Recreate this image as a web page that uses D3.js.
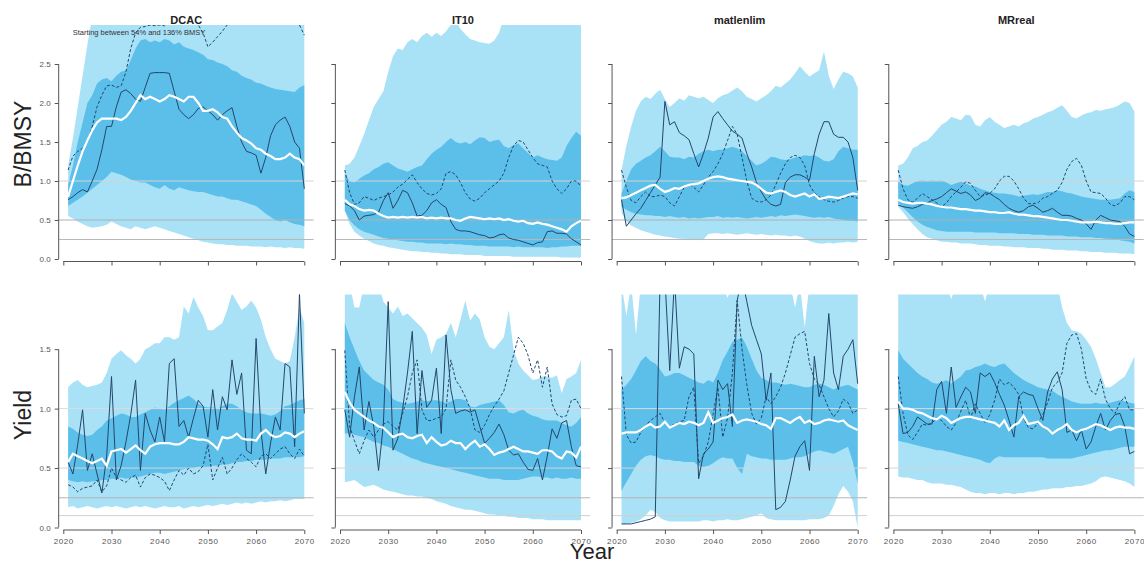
<!DOCTYPE html>
<html>
<head>
<meta charset="utf-8">
<script src="https://cdn.jsdelivr.net/npm/d3@7"></script>
<style>
  body { margin: 0; background: #fff; }
  svg { display: block; }
</style>
</head>
<body>
<svg id="chart" width="1144" height="563"></svg>
<script>
// ---- categories and ticks ----
const years = d3.range(2021, 2071);
const methods = ["DCAC", "IT10", "matlenlim", "MRreal"];
const xTicks = [2020, 2030, 2040, 2050, 2060, 2070];
const bTicks = [0, 0.5, 1, 1.5, 2, 2.5];
const yTicks = [0, 0.5, 1, 1.5];
const bRefs = [1, 0.5, 0.25];
const yRefs = [1, 0.5, 0.25, 0.1];

// ---- B/BMSY projections (2021-2070) ----
const dcacB_outerLo = [0.55,0.52,0.48,0.45,0.42,0.40,0.41,0.42,0.44,0.48, 0.45,0.42,0.40,0.38,0.42,0.40,0.38,0.40,0.42,0.40, 0.38,0.36,0.34,0.32,0.30,0.28,0.26,0.24,0.22,0.21, 0.20,0.19,0.19,0.18,0.18,0.17,0.17,0.17,0.16,0.16, 0.16,0.15,0.16,0.15,0.15,0.14,0.15,0.14,0.14,0.13];
const dcacB_outerHi = [1.20,1.55,1.95,2.35,2.75,3.10,3.30,3.40,3.50,3.60, 3.60,3.70,3.80,3.90,4.00,4.00,4.10,4.10,4.20,4.20, 4.20,4.10,4.10,4.00,4.00,4.00,3.90,3.90,3.90,3.80, 3.80,3.80,3.70,3.70,3.70,3.60,3.60,3.60,3.60,3.50, 3.50,3.50,3.50,3.40,3.40,3.40,3.40,3.30,3.30,3.30];
const dcacB_innerLo = [0.68,0.72,0.76,0.80,0.85,0.90,0.95,1.00,1.05,1.12, 1.10,1.08,1.05,1.02,1.00,0.98,0.98,0.95,0.92,0.90, 0.95,0.90,0.88,0.92,0.90,0.88,0.87,0.86,0.86,0.84, 0.82,0.80,0.80,0.78,0.76,0.76,0.74,0.72,0.70,0.68, 0.63,0.58,0.54,0.50,0.48,0.50,0.47,0.45,0.44,0.42];
const dcacB_innerHi = [0.95,1.20,1.50,1.75,2.00,2.10,2.25,2.30,2.32,2.28, 2.35,2.40,2.42,2.55,2.70,2.80,2.82,2.78,2.80,2.78, 2.82,2.80,2.75,2.78,2.72,2.70,2.68,2.65,2.62,2.56, 2.55,2.52,2.50,2.47,2.42,2.40,2.35,2.32,2.30,2.26, 2.25,2.22,2.20,2.18,2.17,2.16,2.15,2.14,2.20,2.23];
const dcacB_median = [0.80,1.00,1.20,1.38,1.52,1.65,1.75,1.80,1.80,1.80, 1.80,1.78,1.82,1.90,2.00,2.10,2.05,2.08,2.05,2.02, 2.05,2.10,2.08,2.05,2.02,2.08,2.08,2.00,1.90,1.90, 1.92,1.88,1.82,1.80,1.70,1.62,1.55,1.52,1.48,1.42, 1.40,1.35,1.32,1.28,1.28,1.30,1.35,1.30,1.28,1.20];
const dcacB_sim1 = [0.76,0.80,0.85,0.89,0.86,1.00,1.15,1.40,1.70,1.70, 1.95,2.14,2.17,2.12,2.05,2.02,2.20,2.38,2.39,2.39, 2.39,2.38,2.15,1.92,1.85,1.80,1.85,1.93,1.95,1.90, 1.85,1.78,1.85,1.90,1.94,1.70,1.50,1.38,1.36,1.33, 1.10,1.30,1.58,1.72,1.78,1.82,1.70,1.50,1.42,0.90];
const dcacB_sim2 = [1.14,1.32,1.38,1.42,1.50,1.70,1.95,2.10,2.22,2.23, 2.20,2.22,2.40,2.70,2.90,2.97,2.98,3.00,2.99,3.00, 2.99,3.05,3.20,3.20,3.20,3.20,3.10,3.00,2.90,2.72, 2.78,2.85,2.92,3.00,3.20,3.20,3.20,3.20,3.20,3.20, 3.20,3.20,3.20,3.20,3.20,3.20,3.20,3.10,3.00,2.87];

const it10B_outerLo = [0.62,0.45,0.35,0.30,0.26,0.23,0.20,0.18,0.17,0.15, 0.14,0.13,0.12,0.11,0.10,0.10,0.09,0.09,0.08,0.08, 0.07,0.07,0.06,0.06,0.06,0.05,0.05,0.05,0.05,0.04, 0.04,0.04,0.04,0.04,0.04,0.03,0.03,0.03,0.03,0.03, 0.03,0.03,0.03,0.03,0.03,0.02,0.02,0.02,0.02,0.02];
const it10B_outerHi = [1.20,1.22,1.30,1.45,1.60,1.78,1.95,2.05,2.15,2.40, 2.60,2.70,2.68,2.78,2.82,2.78,2.86,2.90,2.85,2.90, 2.86,2.92,3.00,3.05,2.95,2.88,2.82,2.80,2.78,2.77, 2.76,2.80,2.90,3.10,3.30,3.40,3.50,3.50,3.60,3.60, 3.60,3.60,3.60,3.60,3.60,3.60,3.60,3.60,3.60,3.60];
const it10B_innerLo = [0.62,0.50,0.43,0.38,0.35,0.33,0.31,0.29,0.27,0.26, 0.25,0.24,0.23,0.22,0.22,0.21,0.21,0.20,0.20,0.20, 0.20,0.19,0.20,0.19,0.19,0.18,0.18,0.17,0.17,0.17, 0.16,0.16,0.16,0.16,0.16,0.15,0.16,0.15,0.15,0.15, 0.15,0.15,0.14,0.15,0.15,0.16,0.16,0.17,0.17,0.17];
const it10B_innerHi = [1.10,1.00,0.98,1.03,1.07,1.10,1.15,1.18,1.22,1.24, 1.20,1.16,1.14,1.12,1.15,1.18,1.20,1.28,1.35,1.40, 1.44,1.50,1.55,1.50,1.48,1.50,1.47,1.52,1.56,1.55, 1.50,1.52,1.53,1.45,1.42,1.46,1.48,1.42,1.36,1.30, 1.33,1.30,1.28,1.27,1.26,1.30,1.45,1.55,1.63,1.58];
const it10B_median = [0.76,0.70,0.68,0.64,0.62,0.63,0.62,0.58,0.55,0.53, 0.54,0.53,0.54,0.53,0.54,0.53,0.54,0.52,0.53,0.52, 0.53,0.52,0.52,0.50,0.49,0.52,0.54,0.53,0.52,0.51, 0.52,0.51,0.52,0.50,0.51,0.49,0.48,0.49,0.46,0.45, 0.47,0.45,0.44,0.42,0.40,0.38,0.35,0.42,0.46,0.49];
const it10B_sim1 = [0.71,0.68,0.62,0.50,0.55,0.56,0.57,0.60,0.75,0.85, 0.65,0.75,0.88,0.85,0.72,0.55,0.56,0.62,0.72,0.76, 0.70,0.66,0.48,0.38,0.36,0.36,0.35,0.33,0.31,0.30, 0.27,0.28,0.31,0.32,0.27,0.25,0.24,0.22,0.20,0.18, 0.21,0.22,0.35,0.36,0.33,0.33,0.32,0.26,0.22,0.18];
const it10B_sim2 = [1.14,0.85,0.70,0.72,0.80,0.78,0.75,0.78,0.80,0.82, 0.86,0.92,0.96,1.02,1.08,0.98,0.90,0.84,0.82,0.84, 0.90,1.10,1.12,1.08,0.98,0.85,0.77,0.74,0.78,0.85, 0.90,0.95,1.00,1.10,1.30,1.45,1.52,1.50,1.40,1.30, 1.22,1.20,1.18,1.00,0.90,0.84,0.90,1.00,1.00,0.93];

const matB_outerLo = [0.60,0.48,0.43,0.40,0.37,0.35,0.33,0.31,0.30,0.29, 0.28,0.27,0.26,0.26,0.25,0.25,0.24,0.25,0.32,0.33, 0.33,0.32,0.33,0.32,0.31,0.32,0.33,0.32,0.31,0.32, 0.31,0.30,0.31,0.30,0.30,0.29,0.30,0.29,0.26,0.23, 0.21,0.20,0.20,0.21,0.20,0.21,0.21,0.22,0.21,0.22];
const matB_outerHi = [1.14,1.45,1.70,1.90,2.02,2.08,2.05,2.12,2.17,2.05, 1.95,2.00,2.06,2.03,2.10,2.08,2.06,2.08,2.04,2.00, 2.06,2.10,2.12,2.16,2.20,2.15,2.08,2.05,2.02,2.06, 2.10,2.15,2.22,2.20,2.25,2.30,2.38,2.47,2.40,2.34, 2.38,2.42,2.66,2.35,2.18,2.30,2.40,2.38,2.34,2.20];
const matB_innerLo = [0.67,0.63,0.60,0.58,0.57,0.56,0.56,0.55,0.55,0.54, 0.55,0.54,0.53,0.54,0.52,0.53,0.52,0.53,0.54,0.54, 0.55,0.53,0.54,0.53,0.54,0.53,0.52,0.53,0.54,0.53, 0.54,0.55,0.54,0.56,0.55,0.56,0.57,0.56,0.55,0.54, 0.53,0.54,0.53,0.54,0.52,0.51,0.50,0.49,0.49,0.48];
const matB_innerHi = [0.84,1.00,1.15,1.22,1.26,1.30,1.33,1.38,1.44,1.38, 1.31,1.30,1.30,1.28,1.31,1.30,1.35,1.38,1.40,1.38, 1.40,1.40,1.42,1.44,1.42,1.38,1.32,1.26,1.20,1.22, 1.26,1.31,1.30,1.28,1.27,1.28,1.30,1.31,1.33,1.32, 1.33,1.30,1.26,1.25,1.28,1.38,1.44,1.42,1.40,1.40];
const matB_median = [0.78,0.79,0.82,0.85,0.88,0.91,0.94,0.95,0.90,0.86, 0.88,0.91,0.90,0.93,0.95,0.96,0.97,1.00,1.03,1.05, 1.06,1.05,1.03,1.02,1.01,1.00,0.99,0.98,0.95,0.90, 0.85,0.84,0.86,0.88,0.86,0.82,0.80,0.82,0.84,0.80, 0.83,0.77,0.78,0.80,0.79,0.78,0.80,0.82,0.84,0.83];
const matB_sim1 = [0.76,0.42,0.50,0.58,0.65,0.75,0.85,0.95,1.05,2.02, 1.72,1.76,1.62,1.58,1.53,1.35,1.18,1.35,1.55,1.82, 1.89,1.80,1.72,1.64,1.60,1.55,1.35,1.18,0.98,0.86, 0.76,0.70,0.68,0.70,0.98,1.05,1.08,1.08,1.05,1.01, 1.35,1.60,1.76,1.76,1.60,1.56,1.56,1.50,1.30,0.88];
const matB_sim2 = [1.14,0.92,0.75,0.72,0.80,0.86,0.80,0.80,0.82,0.80, 0.72,0.68,0.80,0.92,0.96,0.92,0.86,0.95,1.05,1.12, 1.22,1.35,1.52,1.70,1.60,1.30,1.00,0.78,0.74,0.73, 0.76,0.82,0.95,1.10,1.22,1.30,1.33,1.30,1.20,0.95, 0.85,0.80,0.76,0.74,0.73,0.75,0.78,0.80,0.80,0.78];

const mrB_outerLo = [0.67,0.60,0.52,0.45,0.38,0.32,0.28,0.26,0.24,0.22, 0.22,0.21,0.21,0.20,0.20,0.20,0.19,0.18,0.18,0.17, 0.17,0.17,0.16,0.16,0.15,0.15,0.15,0.14,0.14,0.14, 0.13,0.13,0.12,0.12,0.12,0.11,0.11,0.11,0.10,0.10, 0.09,0.09,0.09,0.08,0.08,0.08,0.07,0.07,0.07,0.06];
const mrB_outerHi = [1.20,1.22,1.30,1.42,1.45,1.50,1.52,1.58,1.65,1.72, 1.76,1.82,1.80,1.78,1.85,1.84,1.72,1.70,1.78,1.82, 1.76,1.72,1.68,1.70,1.72,1.70,1.74,1.76,1.80,1.82, 1.85,1.88,1.90,1.94,1.97,1.90,1.82,1.80,1.84,1.87, 1.88,1.91,1.90,1.92,1.93,1.95,1.98,2.02,2.00,1.89];
const mrB_innerLo = [0.71,0.66,0.60,0.54,0.48,0.44,0.41,0.39,0.37,0.36, 0.35,0.35,0.35,0.35,0.35,0.35,0.34,0.34,0.34,0.34, 0.34,0.33,0.33,0.33,0.33,0.32,0.32,0.32,0.31,0.31, 0.31,0.30,0.30,0.30,0.30,0.29,0.29,0.29,0.28,0.28, 0.28,0.27,0.27,0.26,0.26,0.25,0.24,0.23,0.22,0.20];
const mrB_innerHi = [0.99,0.95,0.94,0.97,1.00,1.01,1.00,1.01,1.00,1.01, 0.98,0.95,0.97,0.99,0.97,0.94,0.93,0.90,0.88,0.86, 0.85,0.84,0.84,0.83,0.82,0.80,0.81,0.82,0.83,0.82, 0.84,0.86,0.86,0.88,0.87,0.85,0.84,0.82,0.80,0.79, 0.78,0.77,0.76,0.76,0.76,0.77,0.78,0.84,0.88,0.86];
const mrB_median = [0.76,0.73,0.72,0.71,0.72,0.72,0.71,0.70,0.68,0.67, 0.66,0.66,0.65,0.64,0.64,0.63,0.62,0.62,0.61,0.60, 0.60,0.59,0.59,0.60,0.58,0.57,0.57,0.56,0.55,0.55, 0.54,0.53,0.52,0.51,0.50,0.50,0.49,0.48,0.47,0.47, 0.47,0.48,0.47,0.46,0.46,0.45,0.45,0.46,0.47,0.47];
const mrB_sim1 = [0.69,0.67,0.66,0.65,0.67,0.70,0.72,0.75,0.77,0.80, 0.85,0.90,0.87,0.84,0.86,0.82,0.75,0.78,0.85,0.84, 0.80,0.76,0.70,0.65,0.62,0.60,0.62,0.67,0.69,0.65, 0.60,0.62,0.65,0.60,0.56,0.56,0.55,0.52,0.50,0.45, 0.38,0.50,0.56,0.53,0.50,0.49,0.48,0.42,0.32,0.29];
const mrB_sim2 = [1.14,0.90,0.76,0.73,0.78,0.84,0.80,0.76,0.72,0.67, 0.72,0.80,0.86,0.92,0.99,0.97,0.88,0.80,0.82,0.84, 0.90,1.00,1.06,1.06,1.00,0.90,0.78,0.71,0.71,0.72, 0.78,0.80,0.84,0.88,0.98,1.15,1.25,1.29,1.20,1.00, 0.86,0.85,0.84,0.78,0.70,0.68,0.72,0.80,0.80,0.76];

// ---- Yield projections (2021-2070) ----
const dcacY_outerLo = [0.17,0.18,0.16,0.17,0.18,0.17,0.16,0.17,0.18,0.17, 0.18,0.17,0.16,0.17,0.18,0.17,0.18,0.17,0.16,0.17, 0.18,0.17,0.17,0.18,0.16,0.17,0.18,0.17,0.18,0.19, 0.18,0.19,0.20,0.19,0.20,0.21,0.20,0.21,0.20,0.21, 0.22,0.21,0.22,0.22,0.23,0.22,0.23,0.24,0.24,0.24];
const dcacY_outerHi = [1.18,1.22,1.24,1.20,1.18,1.19,1.20,1.22,1.30,1.42, 1.46,1.49,1.45,1.42,1.38,1.42,1.50,1.52,1.55,1.55, 1.60,1.60,1.58,1.60,1.86,1.80,1.94,1.85,1.78,1.66, 1.66,1.69,1.72,1.83,1.97,1.90,1.83,1.86,1.91,1.85, 1.75,1.60,1.50,1.42,1.40,1.38,1.40,1.60,1.85,1.72];
const dcacY_innerLo = [0.40,0.39,0.38,0.39,0.38,0.39,0.39,0.40,0.40,0.41, 0.41,0.42,0.41,0.42,0.42,0.43,0.44,0.45,0.46,0.46, 0.45,0.46,0.47,0.48,0.49,0.50,0.50,0.51,0.51,0.51, 0.52,0.52,0.53,0.53,0.54,0.55,0.55,0.56,0.56,0.57, 0.57,0.57,0.58,0.58,0.58,0.59,0.59,0.59,0.59,0.60];
const dcacY_innerHi = [0.85,0.83,0.80,0.78,0.77,0.78,0.82,0.85,0.90,0.92, 0.94,0.96,0.95,0.93,0.93,0.95,0.97,0.99,1.01,1.00, 0.99,1.02,1.05,1.07,1.09,1.11,1.08,1.04,1.02,1.01, 1.01,1.00,1.02,1.04,1.04,1.02,0.99,0.97,0.96,0.96, 0.96,0.95,0.94,0.95,0.98,1.02,1.03,1.05,1.07,1.08];
const dcacY_median = [0.55,0.62,0.60,0.58,0.56,0.54,0.56,0.58,0.52,0.64, 0.65,0.66,0.63,0.66,0.69,0.65,0.62,0.68,0.70,0.71, 0.71,0.71,0.70,0.70,0.72,0.76,0.75,0.74,0.74,0.73, 0.70,0.66,0.76,0.75,0.76,0.79,0.75,0.74,0.74,0.73, 0.79,0.82,0.78,0.76,0.77,0.80,0.79,0.76,0.79,0.81];
const dcacY_sim1 = [0.55,0.45,0.70,0.99,0.48,0.62,0.45,0.29,0.60,1.27, 0.40,0.52,0.72,0.95,1.24,0.48,0.96,0.82,0.72,0.93, 0.72,1.38,1.42,0.85,0.90,0.76,0.92,1.07,1.02,0.76, 1.16,0.82,1.10,0.99,1.41,1.12,1.30,0.65,0.62,1.59, 0.82,0.45,0.71,0.93,0.82,1.38,1.35,0.68,1.97,0.96];
const dcacY_sim2 = [0.36,0.34,0.30,0.33,0.34,0.35,0.40,0.30,0.35,0.50, 0.42,0.40,0.38,0.42,0.44,0.34,0.42,0.45,0.44,0.42, 0.39,0.31,0.40,0.48,0.44,0.50,0.45,0.47,0.52,0.70, 0.40,0.50,0.59,0.45,0.50,0.57,0.62,0.58,0.55,0.51, 0.60,0.62,0.58,0.62,0.66,0.68,0.62,0.58,0.66,0.60];

const it10Y_outerLo = [0.38,0.39,0.40,0.37,0.34,0.35,0.36,0.34,0.32,0.31, 0.30,0.29,0.28,0.27,0.27,0.26,0.26,0.25,0.24,0.22, 0.21,0.20,0.18,0.17,0.16,0.15,0.15,0.14,0.13,0.12, 0.11,0.11,0.10,0.10,0.09,0.09,0.08,0.08,0.08,0.07, 0.07,0.07,0.06,0.06,0.06,0.06,0.06,0.06,0.06,0.06];
const it10Y_outerHi = [2.05,2.05,1.85,1.85,2.05,2.05,2.05,2.05,1.90,1.85, 1.80,1.86,1.78,1.80,1.76,1.72,1.68,1.62,1.46,1.58, 1.60,1.63,1.72,1.60,1.75,1.91,1.74,1.80,1.75,1.60, 1.52,1.50,1.55,1.60,1.83,1.50,1.38,1.32,1.28,1.24, 1.25,1.27,1.27,1.26,1.28,1.13,1.25,1.27,1.30,1.41];
const it10Y_innerLo = [0.79,0.79,0.78,0.77,0.76,0.74,0.72,0.71,0.69,0.68, 0.66,0.64,0.62,0.60,0.58,0.57,0.55,0.54,0.53,0.52, 0.51,0.50,0.49,0.48,0.47,0.46,0.45,0.44,0.43,0.42, 0.41,0.41,0.41,0.40,0.40,0.40,0.40,0.41,0.42,0.43, 0.43,0.42,0.42,0.41,0.42,0.41,0.41,0.42,0.41,0.41];
const it10Y_innerHi = [1.72,1.60,1.50,1.40,1.32,1.28,1.24,1.22,1.20,1.16, 1.08,1.06,1.05,1.04,1.05,1.06,1.07,1.06,1.07,1.07, 1.06,1.05,1.06,1.08,1.08,1.07,1.02,1.01,1.03,1.04, 1.05,1.06,1.07,1.03,0.97,0.96,0.98,0.99,0.96,0.94, 0.93,0.91,0.90,0.90,0.90,0.88,0.86,0.85,0.88,0.93];
const it10Y_median = [1.14,1.05,0.99,0.96,0.93,0.90,0.88,0.85,0.84,0.80, 0.76,0.78,0.79,0.76,0.75,0.77,0.78,0.71,0.76,0.72, 0.69,0.70,0.73,0.71,0.71,0.66,0.70,0.73,0.68,0.70, 0.66,0.61,0.63,0.64,0.66,0.68,0.66,0.64,0.64,0.63, 0.62,0.65,0.65,0.64,0.60,0.58,0.64,0.63,0.59,0.68];
const it10Y_sim1 = [0.99,0.76,1.10,1.35,0.82,1.06,0.85,0.48,0.87,1.90, 0.65,0.75,1.00,1.30,1.65,0.79,1.32,1.01,1.07,1.34, 0.79,1.62,1.16,0.96,0.98,0.99,0.97,0.99,0.85,0.71, 0.75,0.80,0.87,0.78,0.65,0.61,0.62,0.55,0.49,0.48, 0.58,0.40,0.60,0.83,0.75,0.88,0.90,0.68,0.52,0.51];
const it10Y_sim2 = [1.49,0.85,0.73,0.62,0.73,0.82,0.76,0.82,0.87,0.89, 0.85,0.82,0.96,1.10,1.30,1.41,0.99,0.90,0.90,0.92, 0.93,1.00,1.41,1.24,1.18,1.10,1.00,0.82,0.80,0.86, 0.95,1.02,1.08,1.15,1.30,1.45,1.60,1.55,1.45,1.30, 1.41,1.18,1.35,1.04,0.95,0.93,0.94,1.07,1.08,1.00];

const matY_outerLo = [0.03,0.03,0.04,0.05,0.07,0.10,0.15,0.13,0.08,0.06, 0.05,0.05,0.05,0.05,0.05,0.05,0.05,0.06,0.06,0.05, 0.06,0.06,0.07,0.06,0.06,0.07,0.08,0.09,0.10,0.12, 0.08,0.07,0.06,0.06,0.06,0.06,0.06,0.06,0.06,0.07, 0.07,0.07,0.08,0.10,0.18,0.28,0.35,0.30,0.22,0.00];
const matY_outerHi = [2.05,1.78,2.05,1.62,2.05,2.05,2.05,2.05,2.05,2.05, 2.05,2.05,2.05,2.05,2.05,2.05,2.05,2.05,2.05,2.05, 2.05,2.05,1.93,2.05,2.05,2.05,2.05,2.05,2.05,2.05, 2.05,2.05,2.05,2.05,2.05,2.05,1.85,2.05,1.68,2.05, 2.05,2.05,2.05,2.05,2.05,2.05,2.05,2.05,2.05,2.05];
const matY_innerLo = [0.31,0.38,0.45,0.52,0.57,0.60,0.61,0.60,0.58,0.57, 0.57,0.56,0.56,0.55,0.55,0.55,0.52,0.51,0.52,0.54, 0.57,0.59,0.58,0.58,0.50,0.45,0.62,0.60,0.59,0.58, 0.58,0.57,0.57,0.57,0.57,0.58,0.59,0.59,0.60,0.62, 0.64,0.65,0.64,0.63,0.62,0.64,0.66,0.68,0.55,0.37];
const matY_innerHi = [1.16,1.20,1.25,1.32,1.40,1.44,1.40,1.38,1.33,1.27, 1.28,1.30,1.30,1.28,1.26,1.24,1.22,1.21,1.24,1.22, 1.30,1.41,1.48,1.56,1.58,1.60,1.52,1.42,1.32,1.26, 1.24,1.22,1.22,1.21,1.20,1.21,1.20,1.19,1.18,1.18, 1.20,1.21,1.20,1.18,1.16,1.18,1.19,1.20,1.18,1.16];
const matY_median = [0.79,0.80,0.80,0.80,0.82,0.85,0.87,0.84,0.85,0.89, 0.84,0.86,0.88,0.87,0.89,0.88,0.86,0.88,0.97,0.88, 0.90,0.92,0.93,0.95,0.88,0.90,0.91,0.90,0.89,0.87, 0.86,0.83,0.92,0.92,0.90,0.88,0.91,0.93,0.88,0.90, 0.87,0.88,0.90,0.91,0.90,0.89,0.90,0.86,0.84,0.82];
const matY_sim1 = [0.03,0.03,0.03,0.04,0.05,0.06,0.07,0.09,2.10,2.10, 1.32,2.10,1.34,1.52,1.50,1.46,0.41,0.62,0.66,0.72, 1.24,1.16,1.21,0.85,1.91,2.10,1.90,1.70,1.58,1.46, 1.07,1.30,0.15,0.17,0.22,0.40,0.60,0.68,0.73,0.48, 1.44,1.10,1.24,1.80,1.30,1.16,1.44,1.50,1.58,1.21];
const matY_sim2 = [1.27,0.78,0.71,0.72,0.80,0.86,0.90,0.93,0.96,0.88, 0.85,0.87,0.89,0.90,1.10,1.18,0.54,0.60,0.72,0.95, 1.18,0.76,0.92,1.30,1.91,1.50,1.20,0.96,0.87,0.92, 1.10,1.04,1.10,1.18,1.30,1.45,1.60,1.63,1.65,1.38, 1.25,1.20,1.10,1.00,0.93,0.98,1.08,1.05,0.96,0.99];

const mrY_outerLo = [0.43,0.42,0.42,0.41,0.40,0.40,0.38,0.37,0.37,0.37, 0.36,0.36,0.35,0.34,0.32,0.30,0.29,0.29,0.28,0.29, 0.29,0.28,0.29,0.29,0.28,0.29,0.29,0.30,0.30,0.31, 0.32,0.32,0.33,0.33,0.33,0.34,0.34,0.35,0.35,0.36, 0.37,0.39,0.42,0.43,0.42,0.41,0.40,0.39,0.37,0.34];
const mrY_outerHi = [2.05,2.05,2.05,2.05,2.05,2.05,2.05,2.05,2.05,2.05, 2.05,1.92,2.05,2.05,2.05,2.05,2.05,2.05,1.90,2.05, 2.05,2.05,2.05,2.05,2.05,2.05,2.05,2.05,2.05,2.05, 2.05,2.05,2.05,2.05,1.85,1.72,1.66,1.65,1.63,1.58, 1.52,1.42,1.30,1.18,1.18,1.21,1.24,1.27,1.35,1.44];
const mrY_innerLo = [0.73,0.72,0.71,0.70,0.69,0.68,0.67,0.66,0.65,0.65, 0.64,0.63,0.62,0.61,0.60,0.59,0.58,0.57,0.55,0.54, 0.58,0.60,0.59,0.59,0.59,0.59,0.59,0.59,0.59,0.59, 0.59,0.58,0.58,0.58,0.58,0.58,0.58,0.59,0.60,0.61, 0.62,0.63,0.64,0.65,0.65,0.66,0.67,0.68,0.68,0.68];
const mrY_innerHi = [1.49,1.42,1.38,1.34,1.30,1.27,1.25,1.22,1.21,1.22, 1.24,1.21,1.24,1.27,1.32,1.33,1.35,1.36,1.38,1.36, 1.35,1.37,1.38,1.34,1.30,1.27,1.24,1.22,1.20,1.18, 1.17,1.16,1.15,1.12,1.10,1.08,1.06,1.05,1.04,1.04, 1.04,1.05,1.04,1.04,1.05,1.06,1.07,1.06,1.05,1.04];
const mrY_median = [1.06,1.00,1.00,0.99,0.97,0.96,0.94,0.92,0.91,0.94, 0.92,0.88,0.90,0.92,0.93,0.93,0.92,0.91,0.90,0.89, 0.88,0.85,0.90,0.82,0.86,0.88,0.94,0.87,0.88,0.89, 0.85,0.83,0.79,0.82,0.84,0.87,0.82,0.80,0.82,0.83, 0.85,0.87,0.86,0.84,0.82,0.84,0.85,0.84,0.84,0.83];
const mrY_sim1 = [1.04,0.79,0.80,0.85,0.93,0.90,0.87,0.87,1.16,1.23, 0.96,1.35,1.01,1.10,1.18,1.14,0.96,1.30,1.27,1.30, 1.22,1.12,1.03,0.90,0.76,1.10,1.14,1.12,1.11,1.00, 0.90,1.14,1.25,1.31,1.16,0.80,0.82,0.73,0.82,0.66, 0.72,0.85,0.96,0.82,0.90,0.95,0.96,0.85,0.62,0.64];
const mrY_sim2 = [1.27,0.96,0.78,0.74,0.80,0.87,0.86,0.88,0.92,0.90, 0.85,0.82,0.88,0.98,1.07,0.92,1.04,0.96,0.88,0.95, 1.07,1.25,1.20,1.22,1.18,1.12,0.92,0.84,0.83,0.88, 0.95,1.05,1.18,1.22,1.30,1.55,1.62,1.63,1.50,1.25, 1.15,1.12,1.25,1.08,1.00,0.96,1.05,1.10,0.99,0.99];

// ---- tables built from the arrays above ----
const bData = [
  [dcacB_outerLo, dcacB_outerHi, dcacB_innerLo, dcacB_innerHi, dcacB_median, dcacB_sim1, dcacB_sim2],
  [it10B_outerLo, it10B_outerHi, it10B_innerLo, it10B_innerHi, it10B_median, it10B_sim1, it10B_sim2],
  [matB_outerLo, matB_outerHi, matB_innerLo, matB_innerHi, matB_median, matB_sim1, matB_sim2],
  [mrB_outerLo, mrB_outerHi, mrB_innerLo, mrB_innerHi, mrB_median, mrB_sim1, mrB_sim2]
];
const yData = [
  [dcacY_outerLo, dcacY_outerHi, dcacY_innerLo, dcacY_innerHi, dcacY_median, dcacY_sim1, dcacY_sim2],
  [it10Y_outerLo, it10Y_outerHi, it10Y_innerLo, it10Y_innerHi, it10Y_median, it10Y_sim1, it10Y_sim2],
  [matY_outerLo, matY_outerHi, matY_innerLo, matY_innerHi, matY_median, matY_sim1, matY_sim2],
  [mrY_outerLo, mrY_outerHi, mrY_innerLo, mrY_innerHi, mrY_median, mrY_sim1, mrY_sim2]
];

// ---- layout and styling ----
const FONT = "'Liberation Sans', Arial, sans-serif";
const COL_OUTER = "#a9e1f7";
const COL_INNER = "#5cbfea";
const COL_SIM = "#24466a";
const COL_AXIS = "#555";

const rows = [
  { data: bData, ymax: 3.0, top: 25, bottom: 259, ticks: bTicks, refs: bRefs,
    refCols: ["#d4d4d4", "#b0b0b0", "#b8b8b8"], xLabels: false, label: "B/BMSY", labelY: 144 },
  { data: yData, ymax: 1.96, top: 294.5, bottom: 527.5, ticks: yTicks, refs: yRefs,
    refCols: ["#dcdcdc", "#d6d6d6", "#b4b4b4", "#d0d0d0"], xLabels: true, label: "Yield", labelY: 415 }
];

const svg = d3.select("#chart");
const defs = svg.append("defs");

const pxPerYear = 241 / 50;
rows.forEach((row, r) => {
  methods.forEach((m, i) => {
    const x2020 = 63.3 + 276.7 * i;
    const x = d3.scaleLinear()
      .domain([2019.04, 2071.96])
      .range([x2020 - 0.96 * pxPerYear, x2020 + 51.96 * pxPerYear]);
    const y = d3.scaleLinear().domain([0, row.ymax]).range([row.bottom, row.top]);
    const [outerLo, outerHi, innerLo, innerHi, median, sim1, sim2] = row.data[i];

    const clipId = `clip-${r}-${i}`;
    defs.append("clipPath").attr("id", clipId).append("rect")
      .attr("x", x.range()[0]).attr("y", row.top)
      .attr("width", x.range()[1] - x.range()[0]).attr("height", row.bottom - row.top);

    const g = svg.append("g");
    const plot = g.append("g").attr("clip-path", `url(#${clipId})`);

    const band = (lo, hi) => d3.area()
      .x((d, k) => x(years[k])).y0((d, k) => y(lo[k])).y1((d, k) => y(hi[k]))(years);
    const line = arr => d3.line().x((d, k) => x(years[k])).y(d => y(d))(arr);

    // percentile bands
    plot.append("path").attr("d", band(outerLo, outerHi)).attr("fill", COL_OUTER);
    plot.append("path").attr("d", band(innerLo, innerHi)).attr("fill", COL_INNER);

    // reference levels
    row.refs.forEach((v, k) => {
      plot.append("line")
        .attr("x1", x.range()[0]).attr("x2", x.range()[1])
        .attr("y1", y(v)).attr("y2", y(v))
        .attr("stroke", row.refCols[k]).attr("stroke-width", 1);
    });

    // two example simulations and the median
    plot.append("path").attr("d", line(sim2)).attr("fill", "none")
      .attr("stroke", COL_SIM).attr("stroke-width", 1).attr("stroke-dasharray", "3,2");
    plot.append("path").attr("d", line(sim1)).attr("fill", "none")
      .attr("stroke", COL_SIM).attr("stroke-width", 1);
    plot.append("path").attr("d", line(median)).attr("fill", "none")
      .attr("stroke", "#fff").attr("stroke-width", 2.2);

    // y axis
    const ax = x.range()[0];
    const yAxis = d3.axisLeft(y).tickValues(row.ticks).tickSize(4).tickPadding(4)
      .tickFormat(i === 0 ? d3.format(".1f") : () => "");
    const gy = g.append("g").attr("transform", `translate(${ax},0)`).call(yAxis);
    gy.select(".domain").attr("d", `M0,${y(row.ticks[row.ticks.length - 1])}V${y(0)}`);

    // x axis
    const xAxis = d3.axisBottom(x).tickValues(xTicks).tickSize(4).tickPadding(4)
      .tickFormat(row.xLabels ? d3.format("d") : () => "");
    const gx = g.append("g").attr("transform", `translate(0,${row.bottom + 2.5})`).call(xAxis);
    gx.select(".domain").attr("d", `M${x(2020)},0H${x(2070)}`);

    [gx, gy].forEach(a => {
      a.selectAll(".domain").attr("stroke", COL_AXIS).attr("stroke-width", 1);
      a.selectAll(".tick line").attr("stroke", COL_AXIS);
      a.selectAll(".tick text").attr("fill", "#555")
        .style("font-family", FONT).style("font-size", "8px");
    });
    gx.selectAll(".tick text").style("letter-spacing", "0.6px");

    if (r === 0) {
      g.append("text")
        .attr("x", (x.range()[0] + x.range()[1]) / 2).attr("y", 20)
        .attr("text-anchor", "middle").attr("dominant-baseline", "central")
        .style("font-family", FONT).style("font-size", "11px").style("font-weight", "bold")
        .attr("fill", "#222").text(m);
    }
  });

  svg.append("text")
    .attr("transform", `translate(23,${row.labelY}) rotate(-90)`)
    .attr("text-anchor", "middle").attr("dominant-baseline", "central")
    .style("font-family", FONT).style("font-size", "23px").attr("fill", "#222")
    .text(row.label);
});

svg.append("text")
  .attr("x", 72.7).attr("y", 32)
  .attr("dominant-baseline", "central")
  .style("font-family", FONT).style("font-size", "7.5px").attr("fill", "#333")
  .text("Starting between 54% and 136% BMSY");

svg.append("text")
  .attr("x", 592).attr("y", 551)
  .attr("text-anchor", "middle").attr("dominant-baseline", "central")
  .style("font-family", FONT).style("font-size", "22px").attr("fill", "#222")
  .text("Year");
</script>
</body>
</html>
